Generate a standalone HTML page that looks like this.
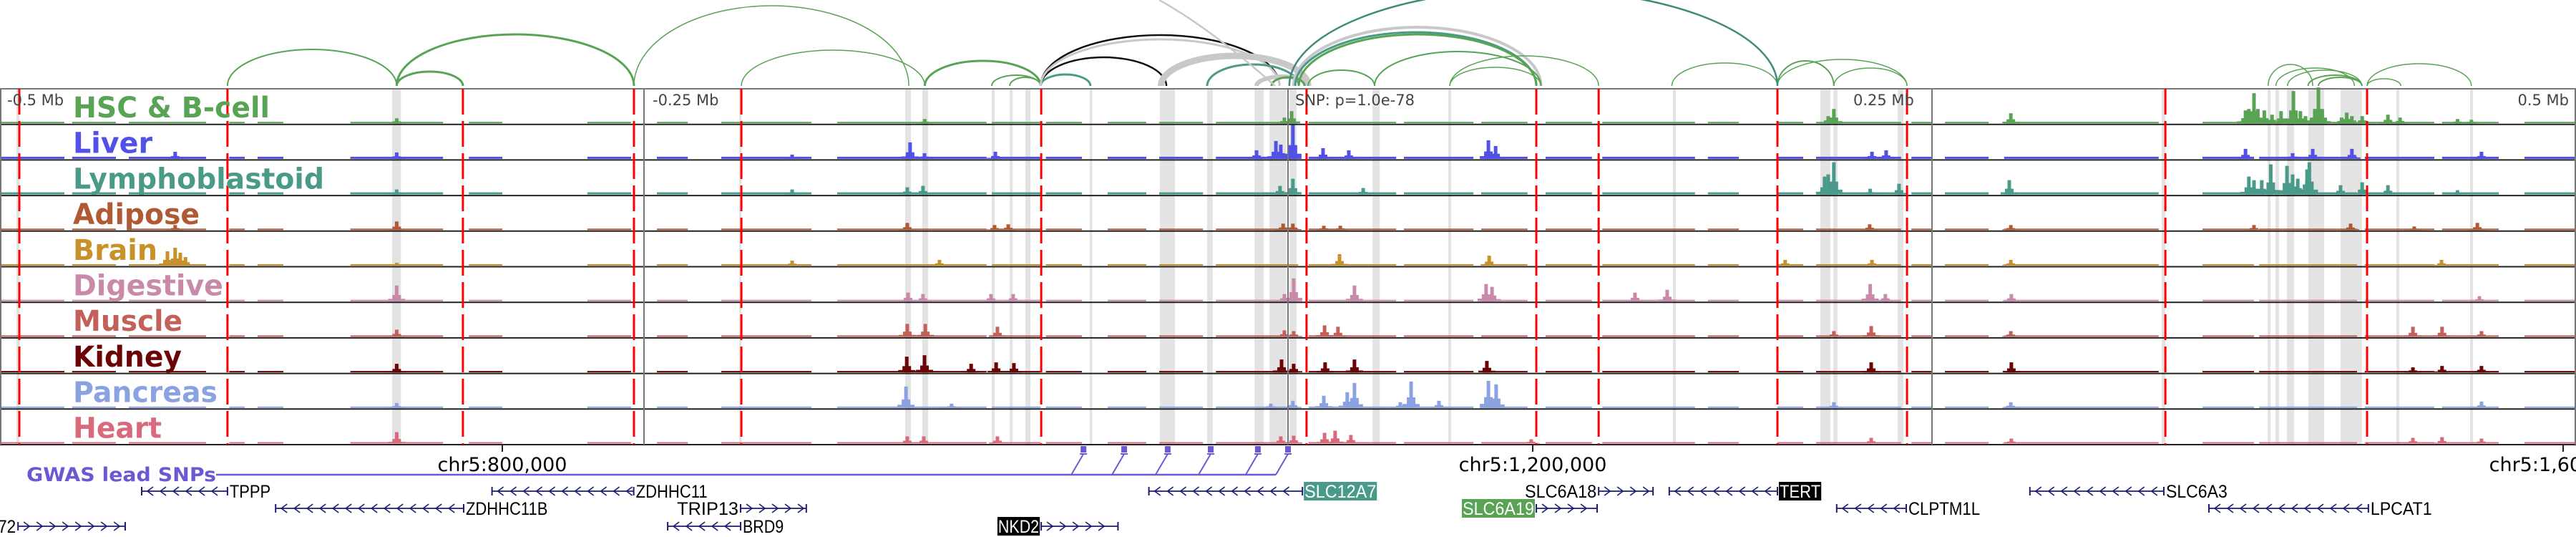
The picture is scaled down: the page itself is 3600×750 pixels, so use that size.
<!DOCTYPE html>
<html><head><meta charset="utf-8"><style>
html,body{margin:0;padding:0;background:#fff;}
svg{display:block;}
</style></head><body>
<svg id="chart" xmlns="http://www.w3.org/2000/svg" width="3600" height="750" viewBox="0 0 3600 750">
<g id="highlights"></g>
<g id="arcs"></g>
<g id="tracks"></g>
<g id="vlines"></g>
<g id="labels"></g>
<g id="axis"></g>
<g id="snps"></g>
<g id="genes"></g>
</svg>
<script>
// ---- data (positions in kb relative to lead SNP) ----
const trackNames = ["HSC & B-cell","Liver","Lymphoblastoid","Adipose","Brain","Digestive","Muscle","Kidney","Pancreas","Heart"];
const trackColors = ["#58a454","#5151e8","#4a9a8a","#b05a35","#c8912a","#c98aaa","#c4605a","#6b0404","#8aa2e0","#d86a7c"];
const labelWidths = [275,111,351,177,118,210,153,152,202,124];
const baselineSegs = [[-500,-475],[-472,-455],[-450,-420],[-411,-405],[-400,-390],[-364,-328],[-318,-305],[-272,-255],[-245,-233],[-220,-185],[-175,-117],[-115,-96],[-94,-80],[-70,-55],[-50,-33],[-28,4],[8,42],[45,72],[75,93],[100,118],[122,158],[163,175],[190,200],[205,238],[242,250],[255,272],[278,338],[355,375],[377,415],[418,445],[448,470],[480,500]];
const peaksHSC = [[-346,7],[-141,6],[1.4,17],[-1.4,8],[209.7,10],[211.9,20],[280.6,14],[371.7,18],[373,20],[375,42],[376.5,20],[379,18],[382,12],[385.5,17],[390.3,45],[393,17],[395,10],[398.6,20],[400,50],[401.5,20],[409,8],[411,15],[413,10],[417,10],[427,12],[431.7,8],[454,6],[459.4,5]];
const peaksLiver = [[-432,10],[-346,9],[-192.5,6],[-146.7,23],[-141.1,8],[-113.6,10],[-12.2,12],[-4.7,25],[-2.8,20],[1.9,48],[13.6,15],[23.6,12],[77.8,26],[80.6,18],[226.7,10],[232.2,12],[371.7,14],[390,8],[397.8,14],[413,14],[463.3,10]];
const peaksLympho = [[-346,7],[-192.5,7],[-147.8,10],[-141.7,12],[-3.1,12],[1.9,22],[29.2,9],[208.3,25],[209.7,28],[211.9,45],[226,8],[237.2,15],[280,20],[373,25],[375,20],[378,20],[381.5,42],[387.8,40],[390,28],[392,22],[395.6,35],[396.5,45],[408.6,13],[417,17],[427,13],[454,6]];
const peaksAdipose = [[-432,7],[-346,12],[-147.8,10],[-113.9,7],[-108.6,8],[-1.9,9],[1.9,9],[13.9,6],[20.3,6],[225.8,8],[280.6,7],[375,7],[412.5,9],[437.2,5],[461.7,10]];
const peaksBrain = [[-435,20],[-432,25],[-430,18],[-428,12],[-346,4],[-192.5,7],[-135.3,8],[20,16],[78.1,14],[193,8],[226.7,8],[280.6,8],[447.8,8]];
const peaksDigestive = [[-346,22],[-147.5,12],[-141.7,10],[-115.3,10],[-106.7,10],[-1.4,10],[2.2,32],[25.8,22],[76.9,24],[79.2,20],[134.7,12],[147.2,16],[226,24],[231.9,10],[280.8,10],[462.5,7]];
const peaksMuscle = [[-346,10],[-147.8,18],[-140.8,18],[-112.8,14],[-1.4,9],[2.2,8],[14.2,16],[19.4,14],[211.9,8],[226.4,15],[280.6,8],[436.7,14],[448,14],[463.3,8]];
const peaksKidney = [[-346,12],[-148,22],[-141.1,24],[-123,12],[-113.3,14],[-106.4,13],[-2.5,18],[2.2,12],[14.4,14],[25.8,18],[77.2,16],[226.4,14],[280.8,14],[436.7,7],[448,9],[463.3,9]];
const peaksPancreas = [[-346,7],[-148.3,30],[-130.6,6],[-6.7,6],[1.9,10],[13.9,17],[23,22],[25.8,35],[43.6,8],[47.8,37],[58.6,10],[77.8,38],[80.8,33],[211.9,8],[280.6,8],[463.3,9]];
const peaksHeart = [[-346,16],[-147.8,10],[-141.4,10],[-112.8,10],[-2.8,10],[2.2,11],[14.2,15],[18.3,18],[24.4,12],[94.4,6],[226.4,8],[280.8,7],[436.7,8],[448,9],[463.3,7]];
const allPeaks = [peaksHSC,peaksLiver,peaksLympho,peaksAdipose,peaksBrain,peaksDigestive,peaksMuscle,peaksKidney,peaksPancreas,peaksHeart];
const highlightBands = [[-493.6,-492.5],[-347.8,-344.4],[-213,-212.2],[-148.6,-146.4],[-142,-139.7],[-115,-113.9],[-108,-106.9],[-102,-100],[-77,-76],[-49.7,-43.9],[-31.4,-29.2],[-13,-9.4],[-7.2,-0.6],[0.6,3.3],[32.8,35.6],[62.2,63.3],[149.4,150.6],[206.7,210.6],[211.7,213.3],[236.7,238.9],[339.2,340.6],[380.3,381.4],[383.3,384.7],[387.8,390.6],[396.1,402.2],[408.6,416.9],[430.3,431.4],[458.9,460]];
const redLines = [-492.5,-411.7,-320.3,-253.9,-212.2,-95.8,7.2,96.4,120.6,190,240.3,340.6,418.9];
const grayLines = [-250,0,250];
// arcs: [start kb, end kb, apex height px]
const arcStarts = [-411.7,-346,-346,-253.9,-212.2,-141,-115,-108,-96,-96,-96,-96,-49.3,-31.4,-12.2,-6.4,2.2,2.8,4.2,7.8,33.6,33.6,62.8,62.8,149,190,190,211.9,380.5,383.5,388,396,400,418.9,418.9];
const arcEnds = [-346,-320.3,-253.9,-147.2,-141,-96,-96,-96,-76.7,-3.3,-47.2,-3.3,7.8,4.2,7.8,6.4,98.2,96.4,96.4,33.6,98.2,98.2,120.6,98.2,190,211.9,240.3,240.3,397.8,414,416.9,416.9,416.9,432,459.4];
const arcHeights = [51,20,72,112,50,35,15,12,16,71,40,65,42,30,13,12,82,75,72,22,48,48,42,26,32,35,37,25,30,25,22,15,12,10,31];
const arcColors = ["#58a454","#58a454","#58a454","#58a454","#58a454","#58a454","#58a454","#58a454","#4a9a8a","#111","#111","#c8c8c8","#c8c8c8","#4a9a8a","#c8c8c8","#58a454","#c8c8c8","#4a9a8a","#58a454","#58a454","#58a454","#58a454","#58a454","#58a454","#58a454","#58a454","#58a454","#58a454","#58a454","#58a454","#58a454","#58a454","#58a454","#58a454","#58a454"];
const arcWidths = [2,3,3,1.5,1.5,3,2,2,3,2.5,2.5,3,9,3,6,3,4,3,3,2,2,1.5,1.5,1.5,1.5,2,1.5,1.5,1.5,1.5,1.5,2,2,1.5,1.5];
const snpPositions = [-79.4,-63.6,-46.7,-30,-11.7,0];
const axisKb = [-305,95,495];
const axisLabels = ["chr5:800,000","chr5:1,200,000","chr5:1,600,000"];
// genes
const geneNames = ["TPPP","ZDHHC11","SLC12A7","SLC6A18","TERT","SLC6A3","ZDHHC11B","TRIP13","SLC6A19","CLPTM1L","LPCAT1","CEP72","BRD9","NKD2"];
const geneStarts = [-445,-309,-54,120.6,148,288,-393,-212.5,96.4,213,357.5,-493,-240.8,-95.8];
const geneEnds = [-411.7,-254,5.6,141.7,190,340,-320,-187,120,240,419.4,-451.4,-212.5,-66];
const geneStrands = ["-","-","-","+","-","-","-","+","+","-","-","+","-","+"];
const geneRows = [0,0,0,0,0,0,1,1,1,1,1,2,2,2];
const geneLabelSide = ["R","R","R","L","R","R","R","L","L","R","R","L","R","L"];
const geneLabelBox = ["","","#4a9a8a","","#000","","","","#58a454","","","","","#000"];

// ---- scales ----
const X = kb => 1800 + kb * 3.6;
const TRACK_TOP = 124, TRACK_H = 49.7;
const trackTop = i => TRACK_TOP + i * TRACK_H;
const ARC_BASE = 120;
const NS = "http://www.w3.org/2000/svg";
function mk(tag, attrs, parent){const e=document.createElementNS(NS,tag);for(const k in attrs)e.setAttribute(k,attrs[k]);parent.appendChild(e);return e;}
const gHi=document.getElementById('highlights'),gArc=document.getElementById('arcs'),gTr=document.getElementById('tracks'),gV=document.getElementById('vlines'),gL=document.getElementById('labels'),gAx=document.getElementById('axis'),gS=document.getElementById('snps'),gG=document.getElementById('genes');
const tracksBottom = trackTop(10);

// highlight bands
highlightBands.forEach(b=>{
  const r=mk('rect',{x:X(b[0]),y:TRACK_TOP,width:Math.max(2,X(b[1])-X(b[0])),height:tracksBottom-TRACK_TOP,fill:'#e3e3e3'},gHi);
  
  
});

// arcs
arcStarts.forEach((s,i)=>{
  const x1=X(s),x2=X(arcEnds[i]);const rx=(x2-x1)/2;const ry=arcHeights[i];
  const p=mk('path',{d:`M${x1},${ARC_BASE} A${rx},${ry} 0 0 1 ${x2},${ARC_BASE}`,fill:'none',stroke:arcColors[i],'stroke-width':arcWidths[i]},gArc);
  
  
});
const bigArc1=mk('path',{d:`M${X(0.5)},${ARC_BASE} A${(X(190)-X(0.5))/2},135 0 0 1 ${X(190)},${ARC_BASE}`,fill:'none',stroke:'#3f8a7c','stroke-width':2.5},gArc);


const bigArc2=mk('path',{d:`M${X(-5)},${ARC_BASE} Q${X(-30)},40 ${X(-50)},0`,fill:'none',stroke:'#c8c8c8','stroke-width':2.5},gArc);



// tracks
for(let i=0;i<10;i++){
  const top=trackTop(i), bot=top+TRACK_H-1.5, col=trackColors[i];
  const g=mk('g',{},gTr);
  
  
  const bh = (i===1||i===2)?3:2;
  baselineSegs.forEach(s=>{mk('rect',{x:X(s[0]),y:bot-bh,width:X(s[1])-X(s[0]),height:bh,fill:col},g);});
  allPeaks[i].forEach(p=>{
    const cx=X(p[0]),h=p[1];
    mk('rect',{x:cx-12,y:bot-h*0.15,width:24,height:h*0.15,fill:col},g);
    mk('rect',{x:cx-6,y:bot-h*0.4,width:12,height:h*0.4,fill:col},g);
    const b=mk('rect',{x:cx-2.5,y:bot-h,width:5,height:h,fill:col},g);
    
    
  });
}
for(let i=0;i<=10;i++){
  const y=trackTop(i);
  const l=mk('line',{x1:0,x2:3600,y1:y,y2:y,stroke:i===0?'#777':'#222','stroke-width':2},gTr);
  
  
}
mk('line',{x1:1,x2:1,y1:TRACK_TOP,y2:tracksBottom,stroke:'#777','stroke-width':2},gTr);
mk('line',{x1:3599,x2:3599,y1:TRACK_TOP,y2:tracksBottom,stroke:'#777','stroke-width':2},gTr);

grayLines.forEach(k=>{
  const l=mk('line',{x1:X(k),x2:X(k),y1:TRACK_TOP,y2:tracksBottom,stroke:'#777','stroke-width':2},gV);
  
  
});
redLines.forEach(k=>{
  const l=mk('line',{x1:X(k),x2:X(k),y1:TRACK_TOP,y2:tracksBottom,stroke:'#ff0000','stroke-width':3,'stroke-dasharray':'36 9'},gV);
  
  
});

const distLabels=[["-0.5 Mb",10,'start'],["-0.25 Mb",912,'start'],["SNP: p=1.0e-78",1810,'start'],["0.25 Mb",2590,'start'],["0.5 Mb",3590,'end']];
distLabels.forEach(d=>{
  const t=mk('text',{x:d[1],y:147,'font-family':'DejaVu Sans, Liberation Sans, sans-serif','font-size':21,fill:'#444','text-anchor':d[2]},gL);
  t.textContent=d[0];
  
  
});
trackNames.forEach((n,i)=>{
  const t=mk('text',{x:102,y:trackTop(i)+40,'font-family':'DejaVu Sans, Liberation Sans, sans-serif','font-weight':'bold','font-size':40,fill:trackColors[i],textLength:labelWidths[i],lengthAdjust:'spacingAndGlyphs'},gL);
  t.textContent=n;
  
  
});

axisKb.forEach((k,i)=>{
  mk('line',{x1:X(k),x2:X(k),y1:tracksBottom,y2:tracksBottom+10,stroke:'#222','stroke-width':2},gAx);
  const t=mk('text',{x:X(k),y:658,'font-family':'DejaVu Sans, Liberation Sans, sans-serif','font-size':27,fill:'#000','text-anchor':'middle'},gAx);
  t.textContent=axisLabels[i];
  
  
});

const snpCol='#6b59d3';
const gt=mk('text',{x:37,y:672,'font-family':'DejaVu Sans, Liberation Sans, sans-serif','font-weight':'bold','font-size':27,fill:snpCol,textLength:265,lengthAdjust:'spacingAndGlyphs'},gS);
gt.textContent='GWAS lead SNPs';


mk('line',{x1:302,x2:X(snpPositions[snpPositions.length-1])-17,y1:663,y2:663,stroke:snpCol,'stroke-width':2.5},gS);
snpPositions.forEach(k=>{
  const x=X(k);
  const r=mk('rect',{x:x-4,y:623,width:8,height:9,fill:snpCol},gS);
  
  
  mk('line',{x1:x-5,x2:x+5,y1:634,y2:634,stroke:snpCol,'stroke-width':2},gS);
  mk('line',{x1:x,x2:x-17,y1:634,y2:663,stroke:snpCol,'stroke-width':2},gS);
});

const geneCol='#1c1c70';
const rowY=[686,710,735];
geneNames.forEach((n,i)=>{
  const x1=X(geneStarts[i]),x2=X(geneEnds[i]),y=rowY[geneRows[i]];
  const g=mk('g',{},gG);
  
  
  mk('line',{x1:x1,x2:x2,y1:y,y2:y,stroke:geneCol,'stroke-width':1.8},g);
  mk('line',{x1:x1,x2:x1,y1:y-6,y2:y+6,stroke:geneCol,'stroke-width':2},g);
  mk('line',{x1:x2,x2:x2,y1:y-6,y2:y+6,stroke:geneCol,'stroke-width':2},g);
  for(let cx=x1+12;cx<x2-6;cx+=18){
    const d=geneStrands[i]==='-'?`M${cx+4},${y-6} L${cx-4},${y} L${cx+4},${y+6}`:`M${cx-4},${y-6} L${cx+4},${y} L${cx-4},${y+6}`;
    mk('path',{d:d,fill:'none',stroke:geneCol,'stroke-width':1.6},g);
  }
  const tw=n.length*14.3;
  const lx=geneLabelSide[i]==='R'?x2+3:x1-3-tw;
  if(geneLabelBox[i]) mk('rect',{x:lx-1,y:y-13,width:tw+2,height:26,fill:geneLabelBox[i]},g);
  const t=mk('text',{x:lx,y:y+9,'font-family':'Liberation Sans, sans-serif','font-size':25,fill:geneLabelBox[i]?'#fff':'#000',textLength:tw,lengthAdjust:'spacingAndGlyphs'},g);
  t.textContent=n;
  
  
});
</script>
</body></html>
